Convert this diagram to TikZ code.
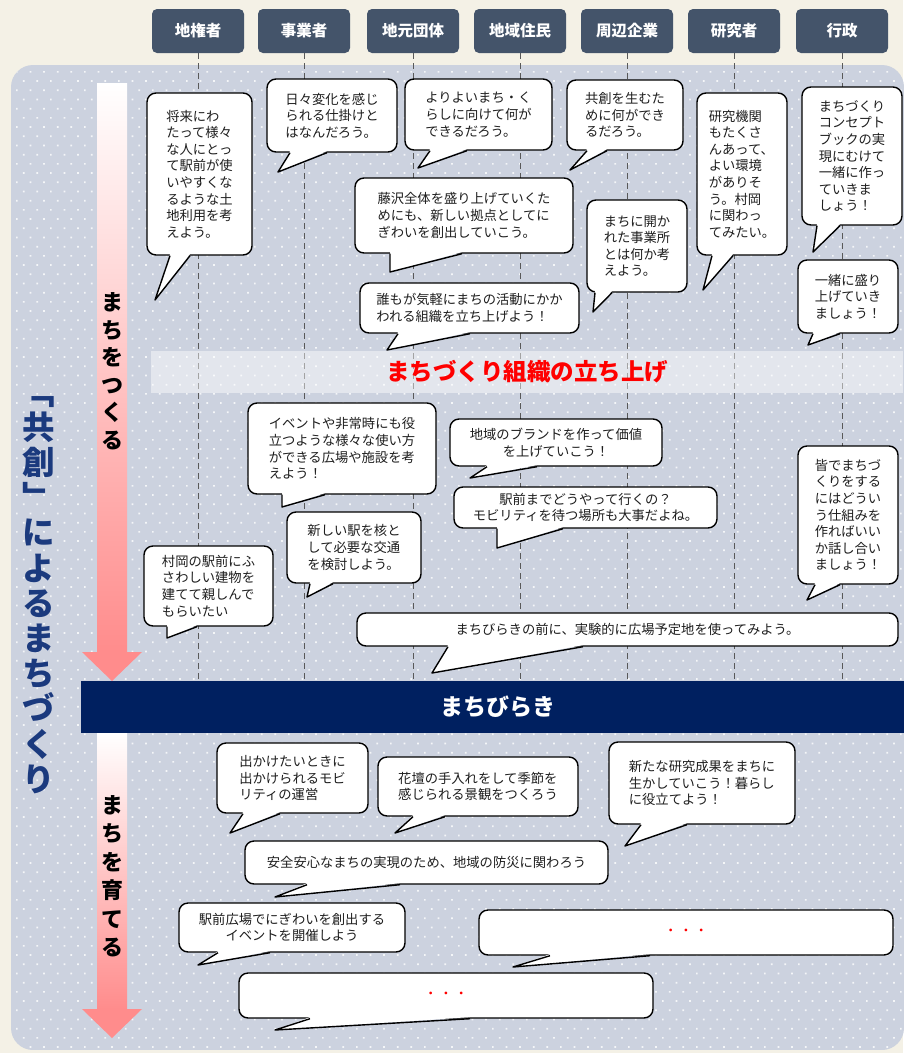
\documentclass[tikz,border=0pt]{standalone}
\usepackage{fontspec}
\setmainfont{Noto Sans CJK JP}
\usetikzlibrary{calc}

\definecolor{cream}{HTML}{F4F1E6}
\definecolor{panel}{HTML}{CCD2DF}
\definecolor{hdrc}{HTML}{44546A}
\definecolor{navy}{HTML}{002060}
\definecolor{titlec}{HTML}{1B3A7E}
\definecolor{arrowc}{HTML}{FF8C8C}
\definecolor{txtc}{HTML}{1E1E1E}

\newcommand{\btxt}{\fontsize{13.3}{16.6}\selectfont\color{txtc}}
% tail of a bubble: node, left x, right x, tip
\newcommand{\bubtail}[4]{%
  \fill[white] ($(#2,0 |- #1.south)+(0,-1.6)$) -- (#4) -- ($(#3,0 |- #1.south)+(0,-1.6)$) -- cycle;
  \draw[line width=1.4pt, line join=round] (#2,0 |- #1.south) -- (#4) -- (#3,0 |- #1.south);
}

\begin{document}
\begin{tikzpicture}[x=1pt, y=-1pt,
    hdr/.style={fill=hdrc, rounded corners=5pt, minimum width=92pt, minimum height=44pt,
      text=white, font=\fontsize{15.5}{18}\selectfont\bfseries},
    dline/.style={draw=black!65, line width=0.8pt, dash pattern=on 6pt off 4pt},
    bub/.style={draw=black, fill=white, line width=1.4pt, rounded corners=9pt,
      inner sep=0pt, align=left, font=\btxt}]
\useasboundingbox (0,0) rectangle (903,1053);
\fill[cream] (0,0) rectangle (903,1053);

% panel with dots
\begin{scope}
  \clip[rounded corners=22pt] (11,65) rectangle (904,1050);
  \fill[panel] (11,65) rectangle (904,1050);
  \foreach \r in {0,...,108} {
    \fill[white, opacity=0.8] \foreach \c in {0,...,66} {
        ({16+13.6*\c+6.8*mod(\r,2)}, {71+9.2*\r}) rectangle ++(1.7,1.7)
      };
  }
\end{scope}

% header
\begin{scope}[every node/.style={hdr}]
  \node (H1) at (198,31) {地権者};
  \node (H2) at (304,31) {事業者};
  \node (H3) at (413,31) {地元団体};
  \node (H4) at (520,31) {地域住民};
  \node (H5) at (627,31) {周辺企業};
  \node (H6) at (734,31) {研究者};
  \node (H7) at (842,31) {行政};
\end{scope}

\node[fill=navy, minimum width=834pt, minimum height=52pt, inner sep=0pt,
  text=white, font=\fontsize{23}{26}\selectfont\bfseries] (OPEN) at (498,707) {まちびらき};

\foreach \h in {H1,H2,H3,H4,H5,H6,H7}
  \draw[dline] (\h.south) -- (\h |- OPEN.north);

% band
\node[fill=white, fill opacity=0.45, text opacity=1, minimum width=752pt, minimum height=42pt,
  inner sep=0pt, text=red, font=\fontsize{23.5}{26}\selectfont\bfseries] (ORG) at (527,372) {まちづくり組織の立ち上げ};

% arrows
\shade[top color=white, bottom color=arrowc] (97,83) rectangle (127,652);
\fill[arrowc] (82,652) -- (142,652) -- (112,681) -- cycle;
\shade[top color=white, bottom color=arrowc] (97,733) rectangle (127,1009);
\fill[arrowc] (82,1009) -- (142,1009) -- (112,1038) -- cycle;

\node[align=center, font=\fontsize{22}{27.5}\selectfont\bfseries] (MK) at (112,371)
  {ま\\ち\\を\\つ\\く\\る};
\node[align=center, font=\fontsize{22}{28.5}\selectfont\bfseries] (MS) at (112,876)
  {ま\\ち\\を\\育\\て\\る};
\node[align=center, text=titlec, font=\fontsize{32.5}{35.2}\selectfont\bfseries] (TT) at (39,595)
  {﹁\\共\\創\\﹂\\に\\よ\\る\\ま\\ち\\づ\\く\\り};

% bubbles before opening
\begin{scope}[every node/.style={bub}]
  \node[minimum width=105pt, minimum height=162pt] (B1) at (199.5,174)
    {将来にわ\\たって様々\\な人にとっ\\て駅前が使\\いやすくな\\るような土\\地利用を考\\えよう。};
  \node[minimum width=130pt, minimum height=73pt] (B2) at (332,115.5)
    {日々変化を感じ\\られる仕掛けと\\はなんだろう。};
  \node[minimum width=147pt, minimum height=71pt] (B3) at (478.5,114.5)
    {よりよいまち・く\\らしに向けて何が\\できるだろう。};
  \node[minimum width=116pt, minimum height=70pt] (B4) at (625,115)
    {共創を生むた\\めに何ができ\\るだろう。};
  \node[minimum width=90pt, minimum height=162pt] (B5) at (742,174)
    {研究機関\\もたくさ\\んあって、\\よい環境\\がありそ\\う。村岡\\に関わっ\\てみたい。};
  \node[minimum width=100pt, minimum height=138pt] (B6) at (852,156)
    {まちづくり\\コンセプト\\ブックの実\\現にむけて\\一緒に作っ\\ていきま\\しょう！};
  \node[minimum width=218pt, minimum height=75pt] (B7) at (464,215.5)
    {藤沢全体を盛り上げていくた\\めにも、新しい拠点としてに\\ぎわいを創出していこう。};
  \node[minimum width=100pt, minimum height=92pt] (B8) at (637,246)
    {まちに開か\\れた事業所\\とは何か考\\えよう。};
  \node[minimum width=100pt, minimum height=73pt] (B9) at (848,296.5)
    {一緒に盛り\\上げていき\\ましょう！};
  \node[minimum width=219pt, minimum height=50pt] (B10) at (469.5,308)
    {誰もが気軽にまちの活動にかか\\われる組織を立ち上げよう！};
  \node[minimum width=188pt, minimum height=91pt] (B11) at (342,448.5)
    {イベントや非常時にも役\\立つような様々な使い方\\ができる広場や施設を考\\えよう！};
  \node[minimum width=212pt, minimum height=47pt, align=center] (B12) at (556,442.5)
    {地域のブランドを作って価値\\を上げていこう！};
  \node[minimum width=263pt, minimum height=41pt, align=center] (B13) at (585.5,507.5)
    {駅前までどうやって行くの？\\モビリティを待つ場所も大事だよね。};
  \node[minimum width=134pt, minimum height=71pt] (B14) at (354,547.5)
    {新しい駅を核と\\して必要な交通\\を検討しよう。};
  \node[minimum width=100pt, minimum height=138pt] (B15) at (848,515)
    {皆でまちづ\\くりをする\\にはどうい\\う仕組みを\\作ればいい\\か話し合い\\ましょう！};
  \node[minimum width=129pt, minimum height=80pt] (B16) at (208.5,586)
    {村岡の駅前にふ\\さわしい建物を\\建てて親しんで\\もらいたい};
  \node[minimum width=541pt, minimum height=33pt] (B17) at (627.5,629.5)
    {まちびらきの前に、実験的に広場予定地を使ってみよう。};
\end{scope}

\coordinate (T1) at (155,300);
\coordinate (T2) at (278,172);
\coordinate (T3) at (418,168);
\coordinate (T4) at (570,170);
\coordinate (T5) at (703,290);
\coordinate (T6) at (813,252);
\coordinate (T7) at (390,272);
\coordinate (T8) at (593,312);
\coordinate (T9) at (808,345);
\coordinate (T10) at (387,350);
\coordinate (T11) at (282,507);
\coordinate (T12) at (470,478);
\coordinate (T13) at (497,548);
\coordinate (T14) at (307,597);
\coordinate (T15) at (807,600);
\coordinate (T16) at (167,638);
\coordinate (T17) at (432,673);

\bubtail{B1}{170}{190}{T1}
\bubtail{B2}{290}{327}{T2}
\bubtail{B3}{430}{467}{T3}
\bubtail{B4}{587}{607}{T4}
\bubtail{B5}{712}{733}{T5}
\bubtail{B6}{817}{840}{T6}
\bubtail{B7}{390}{462}{T7}
\bubtail{B8}{595}{612}{T8}
\bubtail{B9}{813}{840}{T9}
\bubtail{B10}{398}{470}{T10}
\bubtail{B11}{282}{325}{T11}
\bubtail{B12}{487}{537}{T12}
\bubtail{B13}{497}{563}{T13}
\bubtail{B14}{310}{333}{T14}
\bubtail{B15}{815}{840}{T15}
\bubtail{B16}{167}{197}{T16}
\bubtail{B17}{448}{583}{T17}

% bubbles after opening
\begin{scope}[every node/.style={bub}]
  \node[minimum width=151pt, minimum height=70pt] (B18) at (292.5,778)
    {出かけたいときに\\出かけられるモビ\\リティの運営};
  \node[minimum width=200pt, minimum height=59pt] (B19) at (478,786.5)
    {花壇の手入れをして季節を\\感じられる景観をつくろう};
  \node[minimum width=186pt, minimum height=82pt] (B20) at (702,783)
    {新たな研究成果をまちに\\生かしていこう！暮らし\\に役立てよう！};
  \node[minimum width=363pt, minimum height=43pt] (B21) at (426.5,862.5)
    {安全安心なまちの実現のため、地域の防災に関わろう};
  \node[minimum width=226pt, minimum height=49pt, align=center] (B22) at (292,927.5)
    {駅前広場でにぎわいを創出する\\イベントを開催しよう};
  \node[minimum width=414pt, minimum height=45pt, text=red] (B23) at (686,932.5)
    {・\hspace{2pt}・\hspace{2pt}・};
  \node[minimum width=414pt, minimum height=45pt, text=red] (B24) at (446,995.5)
    {・\hspace{2pt}・\hspace{2pt}・};
\end{scope}

\coordinate (T18) at (230,833);
\coordinate (T19) at (395,833);
\coordinate (T20) at (625,846);
\coordinate (T21) at (275,897);
\coordinate (T22) at (198,965);
\coordinate (T23) at (513,967);
\coordinate (T24) at (275,1030);

\bubtail{B18}{243}{280}{T18}
\bubtail{B19}{413}{445}{T19}
\bubtail{B20}{641}{687}{T20}
\bubtail{B21}{307}{400}{T21}
\bubtail{B22}{218}{270}{T22}
\bubtail{B23}{550}{650}{T23}
\bubtail{B24}{310}{470}{T24}
\end{tikzpicture}
\end{document}
